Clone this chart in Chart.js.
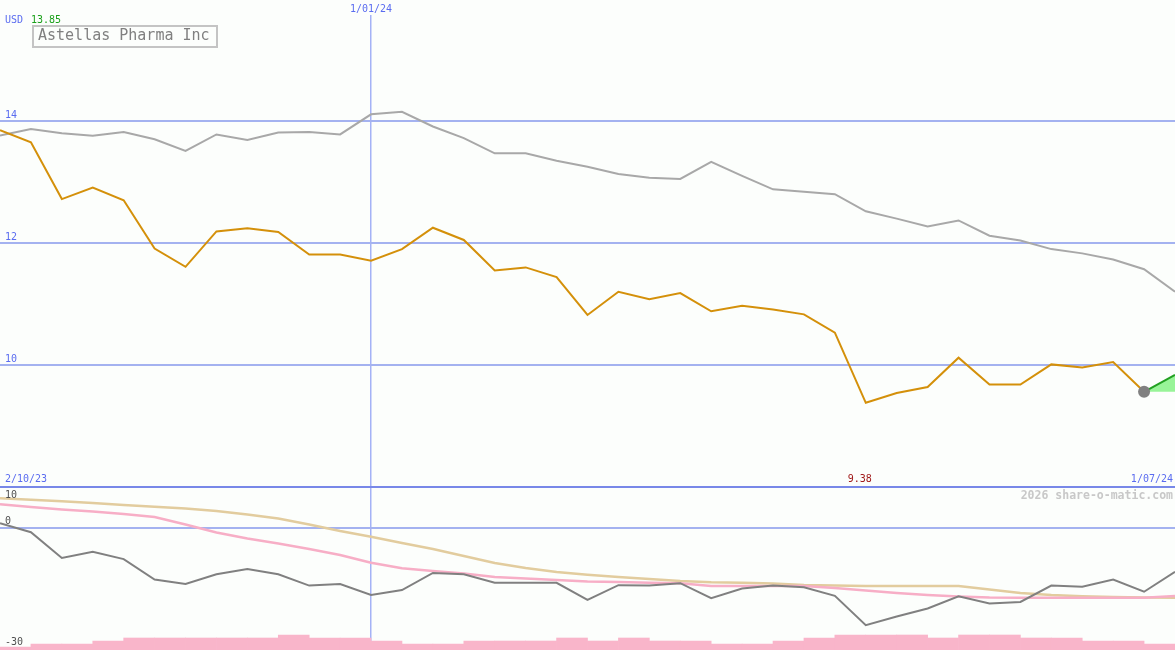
<!DOCTYPE html>
<html><head><meta charset="utf-8">
<script src="https://cdn.jsdelivr.net/npm/chart.js@4.4.1/dist/chart.umd.min.js"></script>
<style>
html,body{margin:0;padding:0;background:#fcfefc;overflow:hidden}
#wrap{width:1175px;height:650px;position:relative}
</style>
</head><body>
<div id="wrap"><canvas id="c"></canvas></div>
<script>
// ---- data ----
const company = "Astellas Pharma Inc";
const currency = "USD";
const firstPriceLabel = "13.85";
const startDate = "2/10/23";
const markDate = "1/01/24";
const endDate = "1/07/24";
const markIndex = 12;
const watermark = "2026 share-o-matic.com";
const priceTicks = [10, 12, 14];
const oscGrid = [0, 10];
const oscLabels = ["10", "0", "-30"];

const price = [13.85,13.65,12.72,12.91,12.70,11.91,11.61,12.19,12.24,12.18,11.81,11.81,11.71,11.90,12.25,12.05,11.55,11.60,11.44,10.82,11.20,11.08,11.18,10.88,10.97,10.91,10.83,10.53,9.38,9.54,9.64,10.12,9.68,9.68,10.01,9.96,10.05,9.56];
const average = [13.76,13.87,13.80,13.76,13.82,13.70,13.51,13.78,13.69,13.81,13.82,13.78,14.11,14.15,13.91,13.72,13.47,13.47,13.35,13.25,13.13,13.07,13.05,13.33,13.10,12.88,12.84,12.80,12.52,12.40,12.27,12.37,12.12,12.04,11.90,11.83,11.73,11.57,11.20];
const projection = [9.56, 9.84];
const oscillator = [1.1,-1.1,-7.4,-5.9,-7.7,-12.7,-13.8,-11.4,-10.1,-11.4,-14.2,-13.8,-16.5,-15.3,-11.1,-11.4,-13.5,-13.5,-13.5,-17.7,-14.1,-14.2,-13.6,-17.3,-14.9,-14.2,-14.6,-16.7,-23.9,-21.8,-19.8,-16.8,-18.6,-18.2,-14.2,-14.5,-12.7,-15.7,-10.8];
const slowSignal = [7.23,6.86,6.49,6.07,5.58,5.14,4.72,4.11,3.25,2.27,0.80,-0.80,-2.20,-3.74,-5.21,-6.93,-8.65,-9.88,-10.86,-11.55,-12.09,-12.58,-13.07,-13.39,-13.48,-13.68,-14.05,-14.17,-14.29,-14.29,-14.29,-14.29,-15.15,-16.01,-16.50,-16.80,-16.99,-17.12,-17.17];
const fastSignal = [5.75,5.09,4.48,3.99,3.37,2.64,0.80,-1.17,-2.64,-3.87,-5.21,-6.69,-8.58,-9.95,-10.61,-11.23,-12.09,-12.45,-12.82,-13.19,-13.31,-13.48,-13.63,-14.29,-14.29,-14.29,-14.29,-14.79,-15.40,-16.01,-16.50,-16.87,-17.12,-17.17,-17.17,-17.17,-17.17,-17.17,-16.75];
const volume = [1,2,2,3,4,4,4,4,4,5,4,4,3,2,2,3,3,3,4,3,4,3,3,2,2,3,4,5,5,5,4,5,5,4,4,3,3,2];

// ---- helpers ----
const pts = (arr, off=0) => arr.map((v,i)=>({x:i+off, y:v}));
const lastIdx = price.length - 1;
const minIdx = price.indexOf(Math.min(...price));
const minLabel = Math.min(...price).toFixed(2);

const MONO = '"DejaVu Sans Mono", "Liberation Mono", monospace';
const BG = '#fcfefc';
Chart.defaults.font.family = MONO;

const noSize = s => { s.width = 0; };
const noHeight = s => { s.height = 0; };

const textPlugin = {
  id: 'texts',
  afterDraw(chart) {
    const ctx = chart.ctx;
    const xs = chart.scales.x, yp = chart.scales.y, yo = chart.scales.yo;
    const xm = xs.getPixelForValue(markIndex);
    ctx.save();
    // keep the top of the date marker line clear for its label
    ctx.fillStyle = BG;
    ctx.fillRect(xm - 2, 0, 4, 15);
    ctx.textBaseline = 'middle';
    ctx.font = '10px ' + MONO;
    ctx.textAlign = 'left';
    ctx.fillStyle = '#5a6cf0';
    ctx.fillText(currency, 5, 20);
    ctx.fillStyle = '#1aa01a';
    ctx.fillText(firstPriceLabel, 31, 20);
    ctx.strokeStyle = '#c4c4c4';
    ctx.lineWidth = 2;
    ctx.strokeRect(33, 26, 184, 21);
    ctx.font = '15px ' + MONO;
    ctx.fillStyle = '#808080';
    ctx.fillText(company, 38, 36.5);
    ctx.font = '10px ' + MONO;
    ctx.textAlign = 'center';
    ctx.fillStyle = '#5a6cf0';
    ctx.fillText(markDate, xm, 9);
    ctx.textAlign = 'left';
    ctx.textBaseline = 'bottom';
    priceTicks.forEach(t => ctx.fillText(String(t), 5, yp.getPixelForValue(t) - 1));
    ctx.textBaseline = 'middle';
    ctx.fillText(startDate, 5, 479);
    ctx.textAlign = 'right';
    ctx.fillText(endDate, 1173, 479);
    ctx.textAlign = 'center';
    ctx.fillStyle = '#a01818';
    ctx.fillText(minLabel, xs.getPixelForValue(minIdx) - 6, 479);
    ctx.textAlign = 'right';
    ctx.font = 'bold 11.5px ' + MONO;
    ctx.fillStyle = '#c8c8c8';
    ctx.fillText(watermark, 1173, 496);
    ctx.font = '10px ' + MONO;
    ctx.textAlign = 'left';
    ctx.fillStyle = '#505050';
    ctx.textBaseline = 'top';
    ctx.fillText(oscLabels[0], 5, yo.getPixelForValue(10) + 3);
    ctx.textBaseline = 'bottom';
    ctx.fillText(oscLabels[1], 5, yo.getPixelForValue(0) - 1);
    ctx.fillText(oscLabels[2], 5, yo.getPixelForValue(-30) - 3);
    ctx.restore();
  }
};

const lineDs = (data, color, axis, w=2) => ({
  data, borderColor: color, borderWidth: w, pointRadius: 0, tension: 0,
  fill: false, yAxisID: axis
});

new Chart(document.getElementById('c'), {
  type: 'line',
  data: {
    datasets: [
      { data: [{x:lastIdx, y:price[lastIdx]}], showLine: false, pointRadius: 6,
        pointBackgroundColor: '#808080', pointBorderWidth: 0, yAxisID: 'y' },
      lineDs(pts(price), '#d4900a', 'y'),
      { data: pts(projection, lastIdx), borderColor: '#22a022', borderWidth: 2,
        backgroundColor: '#98f498', fill: {value: projection[0]}, pointRadius: 0, yAxisID: 'y' },
      lineDs(pts(average), '#a8a8a8', 'y'),
      lineDs(pts(oscillator), '#808080', 'yo'),
      lineDs(pts(fastSignal), '#f7aec6', 'yo', 2.5),
      lineDs(pts(slowSignal), '#e2cc9e', 'yo', 2.5),
      { type: 'bar', data: pts(volume, 0.5), backgroundColor: '#f9b5ca', borderWidth: 0,
        barPercentage: 1, categoryPercentage: 1, yAxisID: 'yv' }
    ]
  },
  options: {
    responsive: true, maintainAspectRatio: false, animation: false,
    devicePixelRatio: 1,
    layout: { padding: 0, autoPadding: false },
    plugins: { legend: { display: false }, tooltip: { enabled: false } },
    scales: {
      x: { type: 'linear', min: 0, max: 38, offset: false,
        afterBuildTicks: s => { s.ticks = [{value: markIndex}]; },
        afterFit: noHeight,
        grid: { color: '#a4b2f6', lineWidth: 1.5, drawTicks: false, offset: false },
        border: { display: false }, ticks: { display: false } },
      y: { type: 'linear', position: 'left', min: 5.3279, max: 15.9836,
        afterBuildTicks: s => { s.ticks = priceTicks.map(v => ({value: v})); },
        afterFit: noSize,
        grid: { color: '#a4b2f0', lineWidth: 2, drawTicks: false },
        border: { display: false }, ticks: { display: false } },
      yo: { type: 'linear', position: 'left', min: -30, max: 129.51,
        afterBuildTicks: s => { s.ticks = oscGrid.map(v => ({value: v})); },
        afterFit: noSize,
        grid: { color: c => c.tick && c.tick.value === 10 ? '#7888e8' : '#a4b2f0',
                lineWidth: 2, drawTicks: false },
        border: { display: false }, ticks: { display: false } },
      yv: { type: 'linear', position: 'left', min: 0, max: 216.67, display: false }
    }
  },
  plugins: [textPlugin]
});
</script>
</body></html>
